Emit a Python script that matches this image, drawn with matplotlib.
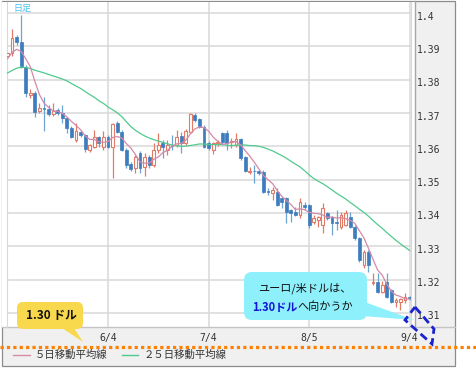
import numpy as np
import pandas as pd
import matplotlib
matplotlib.use("Agg")
import matplotlib.pyplot as plt
from matplotlib.patches import FancyBboxPatch, Polygon, Rectangle
from matplotlib.transforms import ScaledTranslation

# ---------------- data (EUR/USD daily) ----------------
start_date = "2014-05-05"
end_date = "2014-09-04"
tick_dates = ["6/4", "7/4", "8/5", "9/4"]
y_ticks = [1.31, 1.32, 1.33, 1.34, 1.35, 1.36, 1.37, 1.38, 1.39, 1.40]
y_tick_labels = ["1.31", "1.32", "1.33", "1.34", "1.35", "1.36", "1.37", "1.38", "1.39", "1.4"]

# closes before the visible window (only used to warm up the moving averages)
prior_closes = [1.3735, 1.3745, 1.3750, 1.3795, 1.3830, 1.3835, 1.3810, 1.3815,
                1.3810, 1.3820, 1.3810, 1.3800, 1.3795, 1.3830, 1.3835, 1.3815,
                1.3820, 1.3835, 1.3830, 1.3870, 1.3830, 1.3865, 1.3870, 1.3870]

opens = [1.3872, 1.3879, 1.3927, 1.3912, 1.3839, 1.3754, 1.3759, 1.3706, 1.3714, 1.3712,
         1.3696, 1.3709, 1.3699, 1.3684, 1.3656, 1.3619, 1.3644, 1.3634, 1.3589, 1.3599,
         1.3629, 1.3599, 1.3629, 1.3599, 1.3669, 1.3644, 1.3589, 1.3546, 1.3534, 1.3579,
         1.3539, 1.3569, 1.3544, 1.3589, 1.3609, 1.3589, 1.3604, 1.3604, 1.3631, 1.3609,
         1.3644, 1.3694, 1.3681, 1.3659, 1.3609, 1.3589, 1.3609, 1.3639, 1.3639, 1.3612,
         1.3604, 1.3621, 1.3569, 1.3524, 1.3527, 1.3526, 1.3524, 1.3466, 1.3459, 1.3464,
         1.3444, 1.3444, 1.3409, 1.3404, 1.3394, 1.3424, 1.3424, 1.3374, 1.3379, 1.3364,
         1.3399, 1.3387, 1.3374, 1.3359, 1.3364, 1.3389, 1.3359, 1.3324, 1.3244, 1.3284,
         1.3190, 1.3194, 1.3164, 1.3194, 1.3169, 1.3134, 1.3134, 1.3139, 1.3149]
highs = [1.3885, 1.3952, 1.3935, 1.3994, 1.3845, 1.3772, 1.3765, 1.3729, 1.3749, 1.3724,
         1.3731, 1.3714, 1.3724, 1.3688, 1.3660, 1.3669, 1.3650, 1.3638, 1.3608, 1.3649,
         1.3632, 1.3646, 1.3634, 1.3669, 1.3676, 1.3650, 1.3594, 1.3552, 1.3575, 1.3585,
         1.3579, 1.3575, 1.3609, 1.3639, 1.3619, 1.3619, 1.3634, 1.3649, 1.3644, 1.3651,
         1.3699, 1.3699, 1.3686, 1.3664, 1.3615, 1.3612, 1.3618, 1.3644, 1.3649, 1.3624,
         1.3639, 1.3625, 1.3572, 1.3539, 1.3544, 1.3530, 1.3528, 1.3474, 1.3479, 1.3474,
         1.3449, 1.3449, 1.3412, 1.3419, 1.3444, 1.3434, 1.3428, 1.3394, 1.3392, 1.3429,
         1.3404, 1.3390, 1.3409, 1.3404, 1.3409, 1.3404, 1.3364, 1.3328, 1.3289, 1.3290,
         1.3219, 1.3219, 1.3195, 1.3219, 1.3172, 1.3144, 1.3145, 1.3159, 1.3152]
lows = [1.3865, 1.3872, 1.3905, 1.3835, 1.3749, 1.3745, 1.3689, 1.3700, 1.3646, 1.3690,
        1.3690, 1.3694, 1.3669, 1.3639, 1.3624, 1.3614, 1.3628, 1.3584, 1.3584, 1.3595,
        1.3599, 1.3589, 1.3594, 1.3504, 1.3640, 1.3585, 1.3536, 1.3525, 1.3520, 1.3520,
        1.3511, 1.3535, 1.3539, 1.3579, 1.3564, 1.3574, 1.3589, 1.3599, 1.3579, 1.3605,
        1.3640, 1.3674, 1.3655, 1.3594, 1.3589, 1.3577, 1.3600, 1.3604, 1.3589, 1.3594,
        1.3599, 1.3559, 1.3524, 1.3517, 1.3489, 1.3515, 1.3459, 1.3454, 1.3439, 1.3420,
        1.3414, 1.3369, 1.3374, 1.3390, 1.3384, 1.3410, 1.3354, 1.3368, 1.3359, 1.3339,
        1.3380, 1.3334, 1.3349, 1.3352, 1.3360, 1.3354, 1.3318, 1.3254, 1.3234, 1.3224,
        1.3184, 1.3159, 1.3160, 1.3144, 1.3129, 1.3119, 1.3109, 1.3129, 1.3140]
closes = [1.3879, 1.3924, 1.3912, 1.3839, 1.3759, 1.3760, 1.3704, 1.3714, 1.3711, 1.3696,
          1.3706, 1.3699, 1.3684, 1.3656, 1.3629, 1.3646, 1.3634, 1.3591, 1.3604, 1.3629,
          1.3609, 1.3629, 1.3599, 1.3666, 1.3644, 1.3589, 1.3544, 1.3532, 1.3568, 1.3534,
          1.3569, 1.3544, 1.3589, 1.3604, 1.3599, 1.3604, 1.3601, 1.3629, 1.3609, 1.3647,
          1.3697, 1.3679, 1.3659, 1.3599, 1.3594, 1.3609, 1.3614, 1.3614, 1.3609, 1.3617,
          1.3621, 1.3564, 1.3526, 1.3527, 1.3525, 1.3521, 1.3464, 1.3463, 1.3469, 1.3424,
          1.3432, 1.3404, 1.3399, 1.3394, 1.3434, 1.3419, 1.3364, 1.3384, 1.3389, 1.3414,
          1.3384, 1.3369, 1.3369, 1.3394, 1.3399, 1.3359, 1.3324, 1.3259, 1.3284, 1.3244,
          1.3193, 1.3164, 1.3184, 1.3149, 1.3134, 1.3139, 1.3141, 1.3149, 1.3144]

legend_labels = ["５日移動平均線", "２５日移動平均線"]
title_label = "日足"
target_label = "1.30 ドル"
note_line1 = "ユーロ/米ドルは、"
note_line2_blue = "1.30ドル"
note_line2_rest = "へ向かうか"

# ---------------- styling ----------------
UP = "#e27a66"
DOWN = "#3d7dbd"
DOWN_WICK = "#6fa3d4"
MA5_C = "#d48aa8"
MA25_C = "#4fca8e"
GRID = "#d9d9d9"
CJK = ["Noto Sans CJK JP", "DejaVu Sans"]
MONO = "DejaVu Sans Mono"

W, H = 477, 368
fig = plt.figure(figsize=(W / 100, H / 100), dpi=100)
fig.patch.set_facecolor("white")


def fx(px):
    return px / W


def fy(py):
    return 1 - py / H


# background / frame
bg = fig.add_axes([0, 0, 1, 1], zorder=0)
bg.set_xlim(0, W)
bg.set_ylim(H, 0)
bg.axis("off")
bg.add_patch(Rectangle((2, 1), 453, 365, facecolor="#f0f0f0", edgecolor="#8c8c8c", lw=0.9))
bg.add_patch(Rectangle((2.5, 1.5), 412.5, 325.5, facecolor="white", edgecolor="none"))
bg.plot([415, 415], [1, 327], color="#a6a6a6", lw=1.0)
bg.plot([2, 455], [327, 327], color="#c4c4c4", lw=1.0)

# main chart axes
ax = fig.add_axes([fx(7), fy(327), fx(411) - fx(7), fy(2) - fy(327)], zorder=1)
ax.set_facecolor("none")

dates = pd.bdate_range(start_date, end_date)
o = np.array(opens)
h = np.array(highs)
l = np.array(lows)
c = np.array(closes)
x = np.arange(len(c))
up = c >= o

all_closes = pd.Series(prior_closes + closes)
ma5 = all_closes.rolling(5).mean().to_numpy()[len(prior_closes):]
ma25 = all_closes.rolling(25).mean().to_numpy()[len(prior_closes):]

ax.vlines(x[up], l[up], h[up], color=UP, lw=0.9, zorder=2)
ax.vlines(x[~up], l[~up], h[~up], color=DOWN_WICK, lw=0.9, zorder=2)
bot = np.minimum(o, c)
bh = np.maximum(np.abs(c - o), 0.00006)
ax.bar(x[up], bh[up], bottom=bot[up], width=0.62, facecolor="white",
       edgecolor=UP, lw=0.8, zorder=3)
ax.bar(x[~up], bh[~up], bottom=bot[~up], width=0.62, facecolor=DOWN,
       edgecolor=DOWN, lw=0.5, zorder=3)

ax.plot(x, ma25, color=MA25_C, lw=0.9, zorder=4)
ax.plot(x, ma5, color=MA5_C, lw=0.9, zorder=4)

ax.set_xlim(-0.1, 88.3)
ax.set_ylim(1.31 - 14 / 3333.3, 1.40 + 11 / 3333.3)

date_strs = [f"{d.month}/{d.day}" for d in dates]
xt = [date_strs.index(t) for t in tick_dates]
ax.set_xticks(xt)
ax.set_xticklabels(tick_dates)
ax.set_yticks(y_ticks)
ax.set_yticklabels(y_tick_labels)
ax.yaxis.tick_right()
ax.tick_params(axis="y", length=0, pad=4.5, labelsize=7, labelcolor="#333333")
ax.tick_params(axis="x", length=0, pad=4.0, labelsize=7, labelcolor="#333333")
for lab in ax.get_yticklabels() + ax.get_xticklabels():
    lab.set_fontfamily(MONO)
for lab in ax.get_yticklabels():
    lab.set_transform(lab.get_transform() + ScaledTranslation(0, -2.5 / 100, fig.dpi_scale_trans))
ax.grid(True, color=GRID, lw=1.1)
ax.set_axisbelow(True)
ax.spines["top"].set_visible(False)
ax.spines["left"].set_color(GRID)
ax.spines["right"].set_color(GRID)
ax.spines["bottom"].set_visible(False)

# overlay in pixel coordinates
ov = fig.add_axes([0, 0, 1, 1], zorder=5)
ov.set_xlim(0, W)
ov.set_ylim(H, 0)
ov.axis("off")
ov.patch.set_alpha(0)

ov.text(22, 8.5, title_label, fontsize=6.5, color="#45c2f0", family=CJK,
        ha="center", va="center")

# dotted orange line
ov.plot([0, W], [347, 347], color="#ff8000", lw=2.3, ls=(0, (1, 1)))

# legend
ov.plot([13, 30], [355, 355], color=MA5_C, lw=1.0)
ov.text(35, 355, legend_labels[0], fontsize=7.5, color="#333333", family=CJK,
        ha="left", va="center")
ov.plot([122, 138], [355, 355], color=MA25_C, lw=1.0)
ov.text(144, 355, legend_labels[1], fontsize=7.5, color="#333333", family=CJK,
        ha="left", va="center")

# yellow callout
YEL = "#f8d84c"
ov.add_patch(FancyBboxPatch((17, 302), 66, 27, boxstyle="round,pad=0,rounding_size=6",
                            facecolor=YEL, edgecolor="none"))
ov.add_patch(Polygon([(62, 328), (74, 328), (83, 342)], closed=True,
                     facecolor=YEL, edgecolor="none"))
ov.text(51, 315.5, target_label, fontsize=8.5, fontweight="bold", color="#111111",
        family=CJK, ha="center", va="center")

# cyan callout
CYA = "#8ef0fb"
ov.add_patch(FancyBboxPatch((244, 272), 123, 48, boxstyle="round,pad=0,rounding_size=8",
                            facecolor=CYA, edgecolor="none"))
ov.add_patch(Polygon([(362, 301), (362, 316), (414, 320)], closed=True,
                     facecolor=CYA, edgecolor="none"))
ov.text(305, 288, note_line1, fontsize=8, color="#111111", family=CJK,
        ha="center", va="center")
tb = ov.text(252, 307, note_line2_blue, fontsize=8, fontweight="bold", color="#1414d8",
             family=CJK, ha="left", va="center")
fig.canvas.draw()
bb = tb.get_window_extent(renderer=fig.canvas.get_renderer())
x_end = ov.transData.inverted().transform((bb.x1, bb.y0))[0]
ov.text(x_end + 0.5, 307, note_line2_rest, fontsize=8, color="#111111", family=CJK,
        ha="left", va="center")

# blue dashed marker
ov.add_patch(Polygon([(415, 307), (434, 329), (432, 344), (405, 320)], closed=True,
                     facecolor="none", edgecolor="#1a22d0", lw=2.0, ls=(0, (3, 1.6))))

fig.savefig("out.png", dpi=100, facecolor="white")
